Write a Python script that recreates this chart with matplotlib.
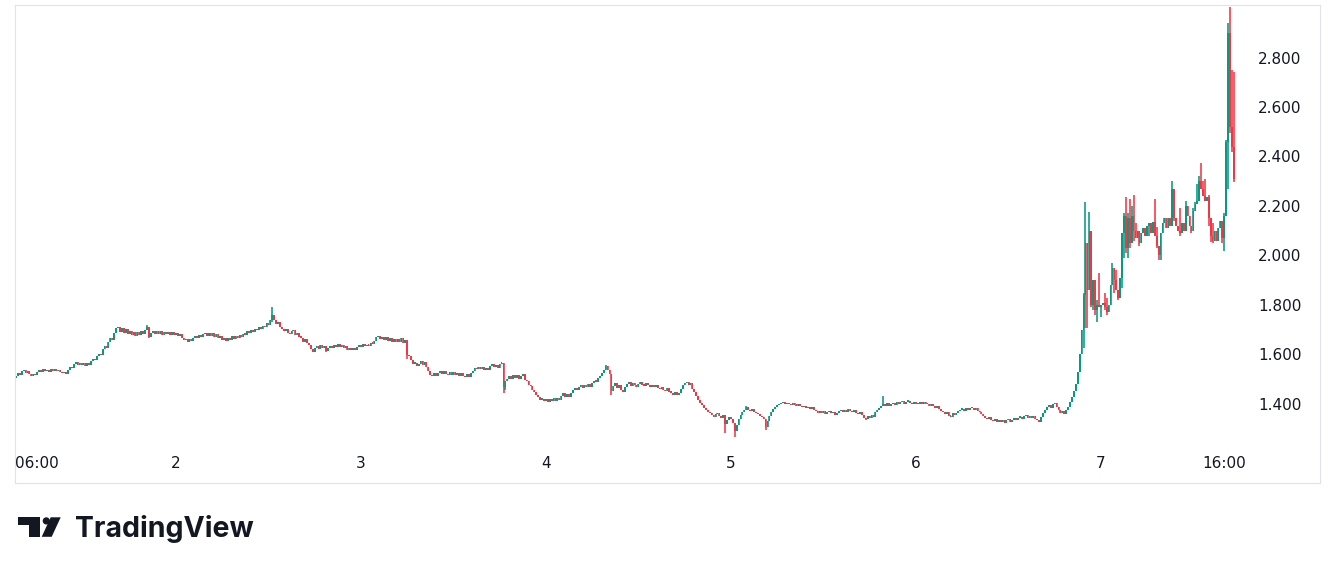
import matplotlib
matplotlib.use("Agg")
import matplotlib.pyplot as plt
from matplotlib.patches import Rectangle, Polygon, Circle
import matplotlib.transforms as mtransforms
import numpy as np

# 15-minute closes (first candle ~03:15 on day 1)
closes = [
    1.512, 1.524, 1.518, 1.532, 1.536, 1.526, 1.534, 1.520, 1.512, 1.522,
    1.516, 1.528, 1.536, 1.530, 1.540, 1.532, 1.538, 1.530, 1.540, 1.533,
    1.540, 1.532, 1.538, 1.530, 1.524, 1.530, 1.522, 1.538, 1.548, 1.544,
    1.560, 1.568, 1.558, 1.566, 1.556, 1.565, 1.555, 1.564, 1.558, 1.572,
    1.582, 1.576, 1.592, 1.604, 1.598, 1.622, 1.634, 1.628, 1.652, 1.668,
    1.660, 1.688, 1.706, 1.712, 1.690, 1.708, 1.686, 1.702, 1.682, 1.696,
    1.678, 1.692, 1.676, 1.690, 1.680, 1.694, 1.684, 1.700, 1.712, 1.672,
    1.686, 1.696, 1.684, 1.696, 1.682, 1.694, 1.680, 1.692, 1.682, 1.690,
    1.678, 1.690, 1.680, 1.688, 1.674, 1.684, 1.666, 1.658, 1.664, 1.652,
    1.662, 1.654, 1.668, 1.676, 1.666, 1.680, 1.670, 1.682, 1.688, 1.676,
    1.688, 1.676, 1.686, 1.672, 1.682, 1.668, 1.674, 1.660, 1.668, 1.656,
    1.668, 1.660, 1.674, 1.664, 1.676, 1.668, 1.678, 1.670, 1.684, 1.680,
    1.694, 1.686, 1.698, 1.692, 1.704, 1.698, 1.710, 1.704, 1.716, 1.710,
    1.726, 1.718, 1.738, 1.760, 1.738, 1.722, 1.732, 1.712, 1.702, 1.694,
    1.704, 1.688, 1.682, 1.694, 1.700, 1.678, 1.688, 1.672, 1.668, 1.652,
    1.662, 1.646, 1.640, 1.622, 1.612, 1.628, 1.634, 1.624, 1.638, 1.628,
    1.634, 1.614, 1.626, 1.636, 1.628, 1.640, 1.630, 1.642, 1.630, 1.640,
    1.628, 1.634, 1.620, 1.628, 1.618, 1.626, 1.620, 1.632, 1.640, 1.630,
    1.642, 1.634, 1.640, 1.636, 1.648, 1.644, 1.656, 1.670, 1.676, 1.662,
    1.672, 1.660, 1.670, 1.656, 1.666, 1.652, 1.664, 1.650, 1.662, 1.652,
    1.666, 1.646, 1.658, 1.598, 1.592, 1.576, 1.562, 1.566, 1.552, 1.562,
    1.572, 1.558, 1.568, 1.548, 1.534, 1.518, 1.512, 1.524, 1.512, 1.526,
    1.532, 1.520, 1.534, 1.522, 1.516, 1.530, 1.518, 1.528, 1.516, 1.526,
    1.514, 1.524, 1.512, 1.508, 1.520, 1.510, 1.524, 1.534, 1.546, 1.540,
    1.550, 1.540, 1.548, 1.536, 1.546, 1.538, 1.552, 1.562, 1.550, 1.558,
    1.546, 1.562, 1.566, 1.470, 1.492, 1.500, 1.514, 1.500, 1.518, 1.504,
    1.516, 1.502, 1.514, 1.522, 1.498, 1.492, 1.478, 1.472, 1.456, 1.448,
    1.436, 1.428, 1.418, 1.422, 1.412, 1.422, 1.410, 1.420, 1.412, 1.424,
    1.414, 1.426, 1.418, 1.434, 1.444, 1.430, 1.442, 1.428, 1.446, 1.458,
    1.466, 1.456, 1.470, 1.476, 1.464, 1.478, 1.468, 1.480, 1.470, 1.484,
    1.494, 1.490, 1.506, 1.512, 1.526, 1.538, 1.552, 1.538, 1.522, 1.452,
    1.472, 1.484, 1.466, 1.478, 1.458, 1.450, 1.468, 1.480, 1.488, 1.472,
    1.484, 1.476, 1.470, 1.482, 1.488, 1.478, 1.474, 1.486, 1.476, 1.468,
    1.478, 1.468, 1.476, 1.464, 1.460, 1.468, 1.456, 1.452, 1.464, 1.450,
    1.446, 1.438, 1.448, 1.436, 1.446, 1.462, 1.478, 1.484, 1.488, 1.476,
    1.484, 1.462, 1.448, 1.432, 1.418, 1.404, 1.396, 1.384, 1.376, 1.368,
    1.362, 1.356, 1.348, 1.358, 1.364, 1.352, 1.344, 1.354, 1.318, 1.334,
    1.348, 1.338, 1.322, 1.292, 1.316, 1.338, 1.356, 1.368, 1.374, 1.386,
    1.376, 1.370, 1.378, 1.368, 1.362, 1.358, 1.350, 1.346, 1.340, 1.308,
    1.330, 1.352, 1.368, 1.380, 1.388, 1.394, 1.400, 1.404, 1.408, 1.398,
    1.406, 1.398, 1.394, 1.404, 1.396, 1.392, 1.400, 1.392, 1.386, 1.390,
    1.382, 1.388, 1.378, 1.386, 1.376, 1.370, 1.362, 1.372, 1.362, 1.370,
    1.358, 1.366, 1.372, 1.362, 1.366, 1.356, 1.364, 1.370, 1.376, 1.366,
    1.376, 1.368, 1.378, 1.370, 1.366, 1.376, 1.364, 1.358, 1.366, 1.354,
    1.344, 1.338, 1.352, 1.342, 1.356, 1.348, 1.366, 1.376, 1.382, 1.390,
    1.402, 1.392, 1.404, 1.390, 1.400, 1.406, 1.396, 1.408, 1.398, 1.408,
    1.412, 1.402, 1.410, 1.414, 1.404, 1.400, 1.410, 1.402, 1.398, 1.408,
    1.400, 1.410, 1.402, 1.398, 1.392, 1.400, 1.390, 1.384, 1.390, 1.378,
    1.372, 1.366, 1.360, 1.366, 1.352, 1.348, 1.362, 1.354, 1.364, 1.370,
    1.376, 1.380, 1.372, 1.382, 1.374, 1.382, 1.384, 1.376, 1.384, 1.372,
    1.366, 1.358, 1.350, 1.344, 1.338, 1.346, 1.334, 1.330, 1.340, 1.328,
    1.336, 1.326, 1.335, 1.324, 1.334, 1.338, 1.328, 1.336, 1.342, 1.334,
    1.344, 1.348, 1.340, 1.350, 1.354, 1.344, 1.352, 1.342, 1.350, 1.340,
    1.334, 1.328, 1.346, 1.364, 1.376, 1.386, 1.394, 1.382, 1.398, 1.406,
    1.388, 1.374, 1.362, 1.372, 1.360, 1.374, 1.386, 1.410, 1.430, 1.452,
    1.480, 1.530, 1.600, 1.700, 1.840, 2.050, 1.860, 2.100, 1.800, 1.900,
    1.780, 1.800, 1.790, 1.800, 1.810, 1.790, 1.770, 1.800, 1.880, 1.950,
    1.900, 1.860, 1.830, 1.910, 2.090, 2.160, 2.030, 2.150, 2.050, 2.160,
    2.100, 2.070, 2.100, 2.050, 2.090, 2.110, 2.080, 2.120, 2.130, 2.090,
    2.135, 2.080, 2.040, 2.000, 2.090, 2.130, 2.150, 2.110, 2.150, 2.120,
    2.270, 2.150, 2.120, 2.100, 2.090, 2.130, 2.100, 2.200, 2.160, 2.120,
    2.100, 2.180, 2.210, 2.220, 2.300, 2.270, 2.240, 2.220, 2.235, 2.150,
    2.080, 2.060, 2.100, 2.060, 2.110, 2.140, 2.070, 2.160, 2.460, 2.900,
    2.520, 2.440, 2.310,
]
first_open = 1.505

# candles whose wicks stick out past the body
wick_idx = [68, 69, 133, 161, 203, 253, 254, 306, 309, 368, 373, 379, 389,
            441, 450, 553, 554, 555, 556, 557, 558, 559, 560, 561, 562, 563,
            565, 566, 569, 570, 571, 572, 574, 575, 576, 577, 578, 579, 580,
            581, 583, 588, 591, 592, 593, 594, 600, 601, 604, 607, 610, 611,
            612, 613, 614, 615, 616, 617, 619, 620, 621, 626, 627, 628, 629,
            630, 631, 632]
wick_hi = [1.718, None, 1.790, None, None, None, None, 1.557, None, None, None, 1.390, None,
           None, 1.432, None, 1.850, 2.216, None, 2.176, None, None, None, 1.820, 1.930, None,
           1.850, 1.830, 1.970, None, 1.940, None, None, 2.170, 2.236, 2.170, 2.230, 2.200, 2.245,
           2.130, None, None, 2.230, 2.115, None, None, 2.300, 2.265, 2.190, 2.220, None, 2.190,
           2.215, 2.290, 2.320, 2.374, 2.300, 2.310, 2.245, None, 2.130, None, 2.170, 2.467, 2.940,
           3.004, 2.750, 2.741]
wick_lo = [None, 1.665, 1.730, 1.610, 1.580, 1.445, 1.455, None, 1.435, 1.283, 1.267, None, 1.295,
           1.335, None, 1.618, 1.626, 1.707, 1.707, None, 1.790, 1.780, 1.760, 1.730, None, 1.750,
           1.780, 1.760, None, 1.850, None, 1.820, 1.870, 1.990, 2.010, 1.990, 2.030, None, 2.060,
           None, 2.040, 2.080, None, 2.030, 1.980, 1.980, None, 2.140, 2.080, None, 2.090, None,
           None, None, None, None, None, None, 2.120, 2.055, 2.050, 2.050, 2.020, None, 2.270,
           2.495, 2.418, 2.297]

price_ticks = [1.4, 1.6, 1.8, 2.0, 2.2, 2.4, 2.6, 2.8]
time_tick_idx = [11, 83, 179, 275, 371, 467, 563, 627]
time_tick_labels = ["06:00", "2", "3", "4", "5", "6", "7", "16:00"]

UP = "#089981"
DOWN = "#F23645"
TXT = "#131722"

c = np.array(closes)
o = np.r_[first_open, c[:-1]]
hi = np.maximum(o, c)
lo = np.minimum(o, c)
for k, h, l in zip(wick_idx, wick_hi, wick_lo):
    if h is not None:
        hi[k] = max(hi[k], h)
    if l is not None:
        lo[k] = min(lo[k], l)
x = np.arange(len(c))
cols = np.where(c >= o, UP, DOWN)

W, H = 1335, 574
fig = plt.figure(figsize=(W / 100, H / 100), dpi=100)
fig.patch.set_facecolor("white")

# chart frame in pixels
left, top, right, bottom = 15, 5, 1320, 483
px0, dpx = 16.0, 1.927          # first candle x, candle spacing
ax = fig.add_axes([left / W, 1 - bottom / H, (right - left) / W, (bottom - top) / H])
ax.set_xlim((left - px0) / dpx, (right - px0) / dpx)
ax.set_ylim(1.4 - (bottom - 404) / 247.5, 1.4 + (404 - top) / 247.5)

ax.vlines(x, lo, hi, colors=cols, linewidth=1.15)
body = np.maximum(np.abs(c - o), 0.006)
ax.bar(x, body, bottom=np.minimum(o, c), width=0.85, color=cols, linewidth=0)

for s in ax.spines.values():
    s.set_color("#E0E3EB")
    s.set_linewidth(0.8)

ax.yaxis.tick_right()
ax.set_yticks(price_ticks)
ax.set_yticklabels([f"{v:.3f}" for v in price_ticks])
ax.tick_params(axis="y", length=0, pad=-(right - 1258) * 0.72, labelsize=11, labelcolor=TXT)
ax.set_xticks([])
trans = mtransforms.blended_transform_factory(ax.transData, ax.transAxes)
for i, lab in zip(time_tick_idx, time_tick_labels):
    ax.text(i, (bottom - 463) / (bottom - top), lab, transform=trans, ha="center",
            va="center", fontsize=11, color=TXT)

# TradingView logo
lax = fig.add_axes([0, 0, 1, 1], zorder=-1)
lax.set_xlim(0, W)
lax.set_ylim(H, 0)
lax.axis("off")
lax.add_patch(Rectangle((18.3, 517.3), 21.7, 7.7, color=TXT, lw=0))
lax.add_patch(Rectangle((29.3, 517.3), 10.7, 19.5, color=TXT, lw=0))
lax.add_patch(Circle((46.3, 520.9), 3.6, color=TXT, lw=0))
lax.add_patch(Polygon([(50.7, 517.3), (60.7, 517.3), (51.7, 536.8), (41.7, 536.8)],
                      closed=True, color=TXT, lw=0))
lax.text(75, 536.8, "TradingView", fontsize=20.5, fontweight="bold", family="Inter",
         color=TXT, ha="left", va="baseline")

fig.savefig("out.png", dpi=100, facecolor="white")
